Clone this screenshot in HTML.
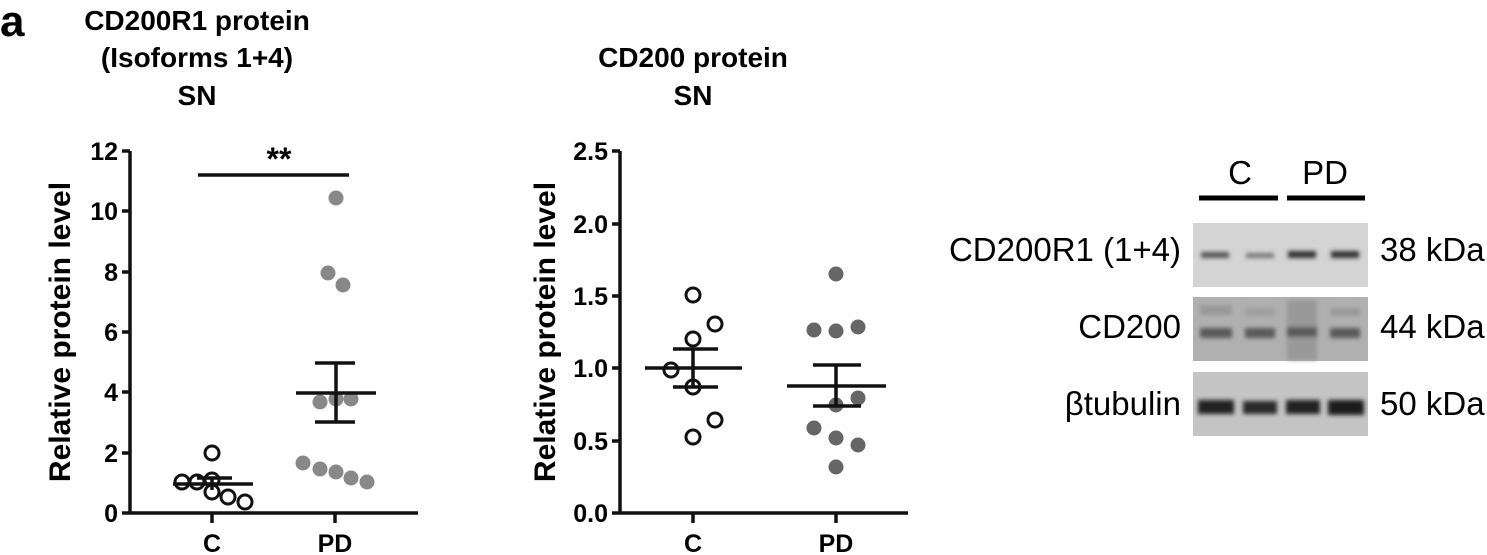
<!DOCTYPE html>
<html><head><meta charset="utf-8"><style>
body{margin:0;background:#fff;}
svg{display:block;font-family:"Liberation Sans",Arial,sans-serif;}
.b{font-weight:bold;}
</style></head><body>
<svg width="1487" height="555" viewBox="0 0 1487 555">
<defs>
<filter id="bl"><feGaussianBlur stdDeviation="2.2"/></filter>
</defs>
<text x="0" y="36" class="b" font-size="44">a</text>
<g class="b" font-size="28" text-anchor="middle">
<text x="197" y="30">CD200R1 protein</text>
<text x="197" y="67">(Isoforms 1+4)</text>
<text x="197" y="105">SN</text>
<text x="693" y="67">CD200 protein</text>
<text x="693" y="105">SN</text>
</g>
<!-- Left plot -->
<g stroke="#111" stroke-width="3.5" fill="none">
<path d="M130 151V514M122 513H418"/>
<path d="M122 151H130M122 211H130M122 272H130M122 332H130M122 392H130M122 453H130M212 513V523M335 513V523"/>
<path d="M198 175H349"/>
</g>
<g class="b" font-size="25" text-anchor="end">
<text x="118" y="160">12</text><text x="118" y="220">10</text><text x="118" y="281">8</text><text x="118" y="341">6</text><text x="118" y="401">4</text><text x="118" y="462">2</text><text x="118" y="522">0</text>
</g>
<g class="b" font-size="25" text-anchor="middle"><text x="212" y="552">C</text><text x="335" y="552">PD</text></g>
<text x="279" y="170" class="b" font-size="32" text-anchor="middle">**</text>
<text transform="translate(70,332) rotate(-90)" class="b" font-size="30" text-anchor="middle">Relative protein level</text>
<g fill="#fff" stroke="#111" stroke-width="3">
<circle cx="212" cy="453" r="7"/><circle cx="182" cy="482" r="7"/><circle cx="197" cy="482" r="7"/><circle cx="212" cy="480" r="7"/><circle cx="212" cy="492" r="7"/><circle cx="228" cy="497" r="7"/><circle cx="245" cy="502" r="7"/>
</g>
<g stroke="#111" stroke-width="3.5" fill="none"><path d="M173 484H253M197 478H232M212 478V490"/></g>
<g fill="#888">
<circle cx="336" cy="198" r="7.5"/><circle cx="328" cy="273" r="7.5"/><circle cx="343" cy="285" r="7.5"/><circle cx="320" cy="402" r="7.5"/><circle cx="336" cy="399" r="7.5"/><circle cx="351" cy="399" r="7.5"/><circle cx="303" cy="463" r="7.5"/><circle cx="320" cy="469" r="7.5"/><circle cx="336" cy="472" r="7.5"/><circle cx="351" cy="478" r="7.5"/><circle cx="367" cy="482" r="7.5"/>
</g>
<g stroke="#111" stroke-width="3.5" fill="none"><path d="M296 393H376M315 363H355M315 422H355M336 363V422"/></g>
<!-- Middle plot -->
<g stroke="#111" stroke-width="3.5" fill="none">
<path d="M620 151V514M612 513H908"/>
<path d="M612 151H620M612 224H620M612 296H620M612 368H620M612 441H620M693 513V523M836 513V523"/>
</g>
<g class="b" font-size="25" text-anchor="end">
<text x="608" y="160">2.5</text><text x="608" y="233">2.0</text><text x="608" y="305">1.5</text><text x="608" y="377">1.0</text><text x="608" y="450">0.5</text><text x="608" y="522">0.0</text>
</g>
<g class="b" font-size="25" text-anchor="middle"><text x="693" y="552">C</text><text x="836" y="552">PD</text></g>
<text transform="translate(555,332) rotate(-90)" class="b" font-size="30" text-anchor="middle">Relative protein level</text>
<g fill="#fff" stroke="#111" stroke-width="3">
<circle cx="693" cy="295" r="7"/><circle cx="715" cy="324" r="7"/><circle cx="693" cy="339" r="7"/><circle cx="671" cy="370" r="7"/><circle cx="693" cy="387" r="7"/><circle cx="715" cy="420" r="7"/><circle cx="693" cy="437" r="7"/>
</g>
<g stroke="#111" stroke-width="3.5" fill="none"><path d="M645 368H742M673 349H718M673 387H718M693 349V387"/></g>
<g fill="#666">
<circle cx="836" cy="274" r="7.5"/><circle cx="814" cy="330" r="7.5"/><circle cx="836" cy="331" r="7.5"/><circle cx="858" cy="327" r="7.5"/><circle cx="858" cy="398" r="7.5"/><circle cx="836" cy="405" r="7.5"/><circle cx="814" cy="428" r="7.5"/><circle cx="836" cy="438" r="7.5"/><circle cx="858" cy="445" r="7.5"/><circle cx="836" cy="467" r="7.5"/>
</g>
<g stroke="#111" stroke-width="3.5" fill="none"><path d="M787 386H886M813 365H861M813 406H861M836 365V406"/></g>
<!-- Blot -->
<g font-size="33" text-anchor="middle"><text x="1240" y="184">C</text><text x="1325" y="184">PD</text></g>
<g stroke="#000" stroke-width="5"><path d="M1199 198H1278M1287 198H1365"/></g>
<rect x="1193" y="223" width="175" height="64" fill="#d4d4d4"/>
<rect x="1193" y="297" width="175" height="64" fill="#b0b0b0"/>
<rect x="1193" y="372" width="175" height="64" fill="#c4c4c4"/>
<g filter="url(#bl)">
<rect x="1201" y="252" width="28" height="6" fill="#555"/><rect x="1246" y="253" width="28" height="5" fill="#777"/><rect x="1288" y="251" width="28" height="7" fill="#333"/><rect x="1331" y="251" width="28" height="7" fill="#333"/>
<rect x="1200" y="305" width="32" height="10" fill="#999"/><rect x="1245" y="308" width="30" height="8" fill="#9f9f9f"/><rect x="1287" y="300" width="30" height="60" fill="#999"/><rect x="1330" y="308" width="30" height="8" fill="#9a9a9a"/>
<rect x="1200" y="328" width="32" height="10" fill="#5a5a5a"/><rect x="1245" y="328" width="30" height="10" fill="#5a5a5a"/><rect x="1287" y="327" width="30" height="10" fill="#5a5a5a"/><rect x="1330" y="328" width="30" height="10" fill="#5a5a5a"/>
<rect x="1198" y="400" width="36" height="14" fill="#222"/><rect x="1243" y="401" width="34" height="13" fill="#2a2a2a"/><rect x="1286" y="400" width="34" height="14" fill="#222"/><rect x="1328" y="400" width="36" height="15" fill="#1a1a1a"/>
</g>
<g font-size="33">
<text x="1181" y="261" text-anchor="end">CD200R1 (1+4)</text>
<text x="1181" y="338" text-anchor="end">CD200</text>
<text x="1181" y="415" text-anchor="end">βtubulin</text>
<text x="1380" y="261">38 kDa</text>
<text x="1380" y="338">44 kDa</text>
<text x="1380" y="415">50 kDa</text>
</g>
</svg>
</body></html>
